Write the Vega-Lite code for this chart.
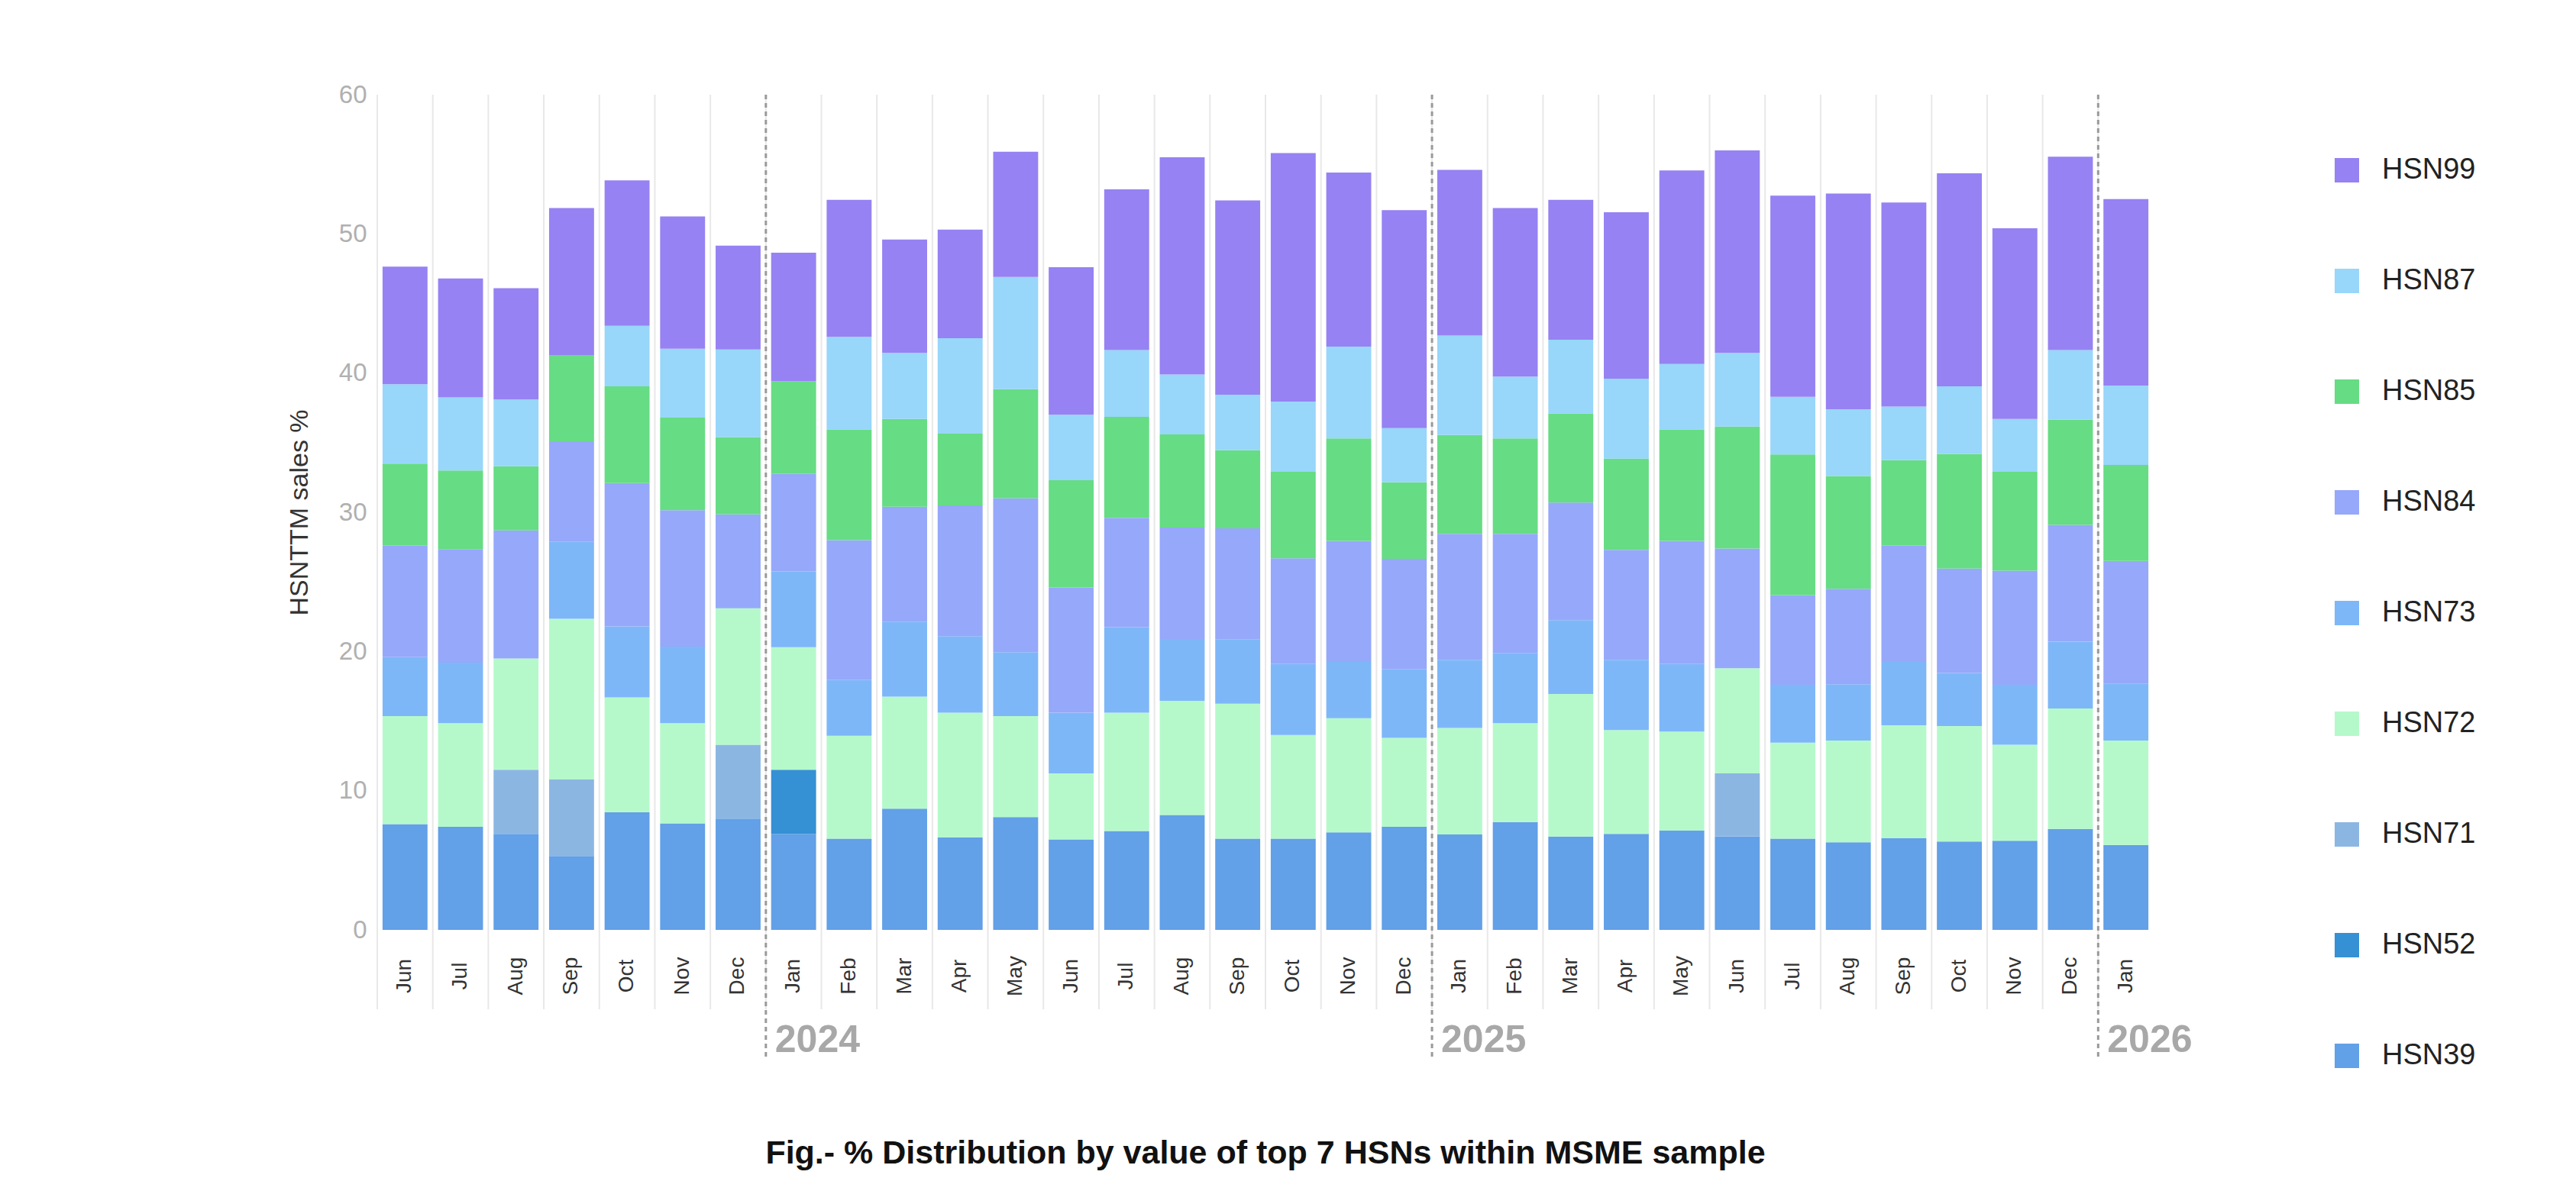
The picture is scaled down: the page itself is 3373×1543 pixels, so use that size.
{
  "$schema": "https://vega.github.io/schema/vega-lite/v6.json",
  "autosize": {"type": "none"},
  "width": 2326,
  "height": 1094,
  "padding": {"left": 494, "top": 124, "right": 553, "bottom": 325},
  "background": "#ffffff",
  "config": {
    "font": "Liberation Sans",
    "view": {"stroke": null}
  },
  "title": {
    "text": "Fig.- % Distribution by value of top 7 HSNs within MSME sample",
    "orient": "bottom",
    "anchor": "middle",
    "font": "Liberation Sans",
    "fontSize": 43,
    "fontWeight": "bold",
    "color": "#111111",
    "offset": 88
  },
  "data": {
    "values": [
      {"m": "2023-06", "HSN39": 7.6, "HSN72": 7.75, "HSN73": 4.25, "HSN84": 8.0, "HSN85": 5.9, "HSN87": 5.7, "HSN99": 8.45},
      {"m": "2023-07", "HSN39": 7.4, "HSN72": 7.45, "HSN73": 4.35, "HSN84": 8.15, "HSN85": 5.65, "HSN87": 5.25, "HSN99": 8.55},
      {"m": "2023-08", "HSN39": 6.9, "HSN71": 4.6, "HSN72": 8.0, "HSN84": 9.2, "HSN85": 4.6, "HSN87": 4.8, "HSN99": 8.0},
      {"m": "2023-09", "HSN39": 5.3, "HSN71": 5.5, "HSN72": 11.55, "HSN73": 5.55, "HSN84": 7.2, "HSN85": 6.2, "HSN99": 10.55},
      {"m": "2023-10", "HSN39": 8.45, "HSN72": 8.25, "HSN73": 5.1, "HSN84": 10.3, "HSN85": 6.95, "HSN87": 4.35, "HSN99": 10.45},
      {"m": "2023-11", "HSN39": 7.65, "HSN72": 7.2, "HSN73": 5.5, "HSN84": 9.8, "HSN85": 6.65, "HSN87": 4.95, "HSN99": 9.5},
      {"m": "2023-12", "HSN39": 8.0, "HSN71": 5.3, "HSN72": 9.8, "HSN84": 6.75, "HSN85": 5.55, "HSN87": 6.3, "HSN99": 7.45},
      {"m": "2024-01", "HSN39": 6.9, "HSN52": 4.6, "HSN72": 8.8, "HSN73": 5.45, "HSN84": 7.0, "HSN85": 6.65, "HSN99": 9.25},
      {"m": "2024-02", "HSN39": 6.55, "HSN72": 7.4, "HSN73": 4.0, "HSN84": 10.05, "HSN85": 7.95, "HSN87": 6.65, "HSN99": 9.85},
      {"m": "2024-03", "HSN39": 8.7, "HSN72": 8.05, "HSN73": 5.4, "HSN84": 8.25, "HSN85": 6.3, "HSN87": 4.75, "HSN99": 8.15},
      {"m": "2024-04", "HSN39": 6.65, "HSN72": 8.95, "HSN73": 5.5, "HSN84": 9.4, "HSN85": 5.15, "HSN87": 6.85, "HSN99": 7.8},
      {"m": "2024-05", "HSN39": 8.1, "HSN72": 7.25, "HSN73": 4.6, "HSN84": 11.05, "HSN85": 7.85, "HSN87": 8.05, "HSN99": 9.0},
      {"m": "2024-06", "HSN39": 6.5, "HSN72": 4.75, "HSN73": 4.35, "HSN84": 9.0, "HSN85": 7.7, "HSN87": 4.7, "HSN99": 10.6},
      {"m": "2024-07", "HSN39": 7.1, "HSN72": 8.5, "HSN73": 6.15, "HSN84": 7.85, "HSN85": 7.25, "HSN87": 4.8, "HSN99": 11.55},
      {"m": "2024-08", "HSN39": 8.25, "HSN72": 8.2, "HSN73": 4.45, "HSN84": 8.0, "HSN85": 6.7, "HSN87": 4.3, "HSN99": 15.6},
      {"m": "2024-09", "HSN39": 6.55, "HSN72": 9.7, "HSN73": 4.6, "HSN84": 8.0, "HSN85": 5.6, "HSN87": 4.0, "HSN99": 13.95},
      {"m": "2024-10", "HSN39": 6.55, "HSN72": 7.45, "HSN73": 5.1, "HSN84": 7.6, "HSN85": 6.2, "HSN87": 5.05, "HSN99": 17.85},
      {"m": "2024-11", "HSN39": 7.0, "HSN72": 8.2, "HSN73": 4.05, "HSN84": 8.7, "HSN85": 7.35, "HSN87": 6.6, "HSN99": 12.5},
      {"m": "2024-12", "HSN39": 7.4, "HSN72": 6.4, "HSN73": 4.95, "HSN84": 7.9, "HSN85": 5.5, "HSN87": 3.9, "HSN99": 15.65},
      {"m": "2025-01", "HSN39": 6.85, "HSN72": 7.65, "HSN73": 4.9, "HSN84": 9.05, "HSN85": 7.1, "HSN87": 7.15, "HSN99": 11.9},
      {"m": "2025-02", "HSN39": 7.75, "HSN72": 7.1, "HSN73": 5.05, "HSN84": 8.55, "HSN85": 6.85, "HSN87": 4.45, "HSN99": 12.1},
      {"m": "2025-03", "HSN39": 6.7, "HSN72": 10.25, "HSN73": 5.3, "HSN84": 8.45, "HSN85": 6.4, "HSN87": 5.3, "HSN99": 10.05},
      {"m": "2025-04", "HSN39": 6.9, "HSN72": 7.45, "HSN73": 5.05, "HSN84": 7.9, "HSN85": 6.55, "HSN87": 5.75, "HSN99": 11.95},
      {"m": "2025-05", "HSN39": 7.15, "HSN72": 7.1, "HSN73": 4.85, "HSN84": 8.85, "HSN85": 8.0, "HSN87": 4.7, "HSN99": 13.9},
      {"m": "2025-06", "HSN39": 6.7, "HSN71": 4.55, "HSN72": 7.55, "HSN84": 8.6, "HSN85": 8.75, "HSN87": 5.3, "HSN99": 14.55},
      {"m": "2025-07", "HSN39": 6.55, "HSN72": 6.9, "HSN73": 4.15, "HSN84": 6.45, "HSN85": 10.1, "HSN87": 4.15, "HSN99": 14.45},
      {"m": "2025-08", "HSN39": 6.3, "HSN72": 7.3, "HSN73": 4.05, "HSN84": 6.85, "HSN85": 8.1, "HSN87": 4.8, "HSN99": 15.5},
      {"m": "2025-09", "HSN39": 6.6, "HSN72": 8.1, "HSN73": 4.6, "HSN84": 8.3, "HSN85": 6.15, "HSN87": 3.85, "HSN99": 14.65},
      {"m": "2025-10", "HSN39": 6.35, "HSN72": 8.3, "HSN73": 3.8, "HSN84": 7.5, "HSN85": 8.25, "HSN87": 4.85, "HSN99": 15.3},
      {"m": "2025-11", "HSN39": 6.4, "HSN72": 6.9, "HSN73": 4.3, "HSN84": 8.2, "HSN85": 7.1, "HSN87": 3.8, "HSN99": 13.7},
      {"m": "2025-12", "HSN39": 7.25, "HSN72": 8.65, "HSN73": 4.8, "HSN84": 8.4, "HSN85": 7.55, "HSN87": 5.0, "HSN99": 13.9},
      {"m": "2026-01", "HSN39": 6.1, "HSN72": 7.5, "HSN73": 4.1, "HSN84": 8.8, "HSN85": 6.9, "HSN87": 5.7, "HSN99": 13.4}
    ]
  },
  "layer": [
    {
      "mark": {"type": "rule", "color": "#e8e8e8", "strokeWidth": 2},
      "encoding": {
        "x": {"field": "m", "type": "ordinal", "bandPosition": 0},
        "y": {"datum": 60},
        "y2": {"datum": -5.7}
      }
    },
    {
      "transform": [
        {"fold": ["HSN39", "HSN52", "HSN71", "HSN72", "HSN73", "HSN84", "HSN85", "HSN87", "HSN99"], "as": ["hsn", "value"]},
        {"filter": "isValid(datum.value)"}
      ],
      "mark": {"type": "bar", "width": {"band": 0.81}},
      "encoding": {
        "x": {
          "field": "m",
          "type": "ordinal",
          "scale": {"paddingInner": 0, "paddingOuter": 0},
          "axis": {
            "title": null,
            "domain": false,
            "grid": false,
            "ticks": false,
            "labelAngle": -90,
            "labelAlign": "center",
            "labelBaseline": "middle",
            "labelPadding": 60,
            "labelFontSize": 28,
            "labelColor": "#333333",
            "labelExpr": "['Jan','Feb','Mar','Apr','May','Jun','Jul','Aug','Sep','Oct','Nov','Dec'][toNumber(slice(datum.value, 5)) - 1]"
          }
        },
        "y": {
          "field": "value",
          "type": "quantitative",
          "stack": "zero",
          "scale": {"domain": [0, 60], "nice": false},
          "axis": {
            "values": [0, 10, 20, 30, 40, 50, 60],
            "grid": false,
            "domain": false,
            "ticks": false,
            "labelFontSize": 33,
            "labelColor": "#b0b0b0",
            "labelPadding": 14,
            "title": "HSNTTM sales %",
            "titleFontSize": 34,
            "titleFontWeight": "normal",
            "titleColor": "#333333",
            "titlePadding": 34
          }
        },
        "color": {
          "field": "hsn",
          "type": "nominal",
          "scale": {
            "domain": ["HSN99", "HSN87", "HSN85", "HSN84", "HSN73", "HSN72", "HSN71", "HSN52", "HSN39"],
            "range": ["#9682f2", "#98d6fa", "#66dc84", "#96a8fa", "#7eb7f8", "#b5f9cb", "#8cb6e2", "#3590d4", "#62a0e7"]
          },
          "legend": {
            "orient": "none",
            "legendX": 2560,
            "legendY": 80,
            "title": null,
            "symbolType": "square",
            "symbolSize": 1024,
            "symbolStrokeWidth": 0,
            "labelFontSize": 38,
            "labelColor": "#222222",
            "labelOffset": 27,
            "rowPadding": 107
          }
        },
        "order": {"field": "hsn", "type": "ordinal", "sort": "ascending"}
      }
    },
    {
      "data": {"values": [{"m": "2024-01", "year": "2024"}, {"m": "2025-01", "year": "2025"}, {"m": "2026-01", "year": "2026"}]},
      "mark": {"type": "rule", "strokeDash": [6, 5], "color": "#9a9a9a", "strokeWidth": 3},
      "encoding": {
        "x": {"field": "m", "type": "ordinal", "bandPosition": 0},
        "y": {"datum": 60},
        "y2": {"datum": -9.2}
      }
    },
    {
      "data": {"values": [{"m": "2024-01", "year": "2024"}, {"m": "2025-01", "year": "2025"}, {"m": "2026-01", "year": "2026"}]},
      "mark": {"type": "text", "align": "left", "baseline": "alphabetic", "dx": 12, "fontSize": 50, "fontWeight": "bold", "color": "#a8a8a8"},
      "encoding": {
        "x": {"field": "m", "type": "ordinal", "bandPosition": 0},
        "y": {"datum": -8.8},
        "text": {"field": "year"}
      }
    }
  ]
}
